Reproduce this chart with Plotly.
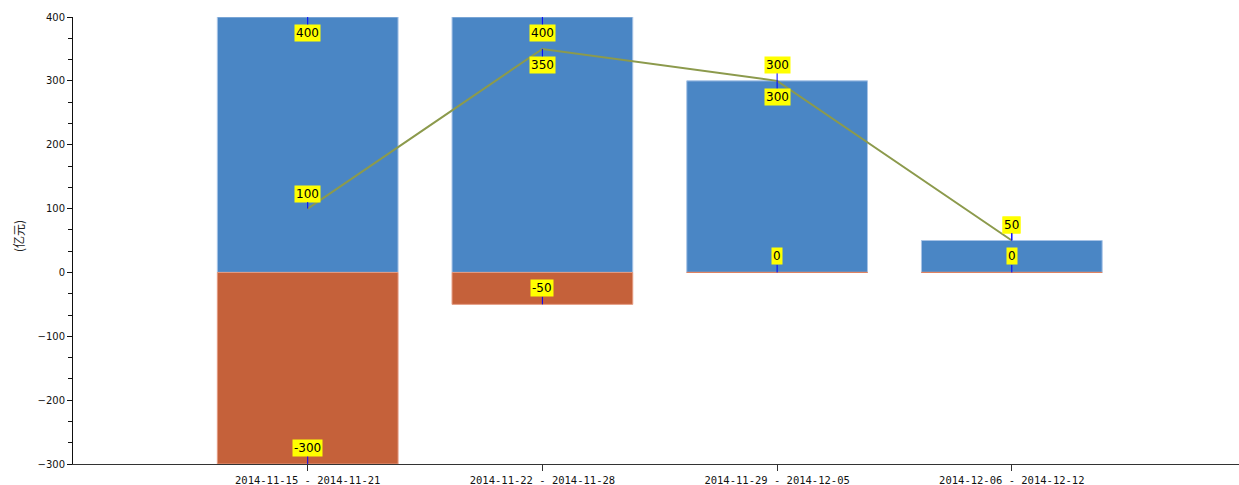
import plotly.graph_objects as go

# Weekly periods and values (亿元)
periods = [
    "2014-11-15 - 2014-11-21",
    "2014-11-22 - 2014-11-28",
    "2014-11-29 - 2014-12-05",
    "2014-12-06 - 2014-12-12",
]
inflow = [400, 400, 300, 50]
outflow = [-300, -50, 0, 0]
net = [100, 350, 300, 50]

# Label placement (pixel offsets from the value point; positive = downward)
inflow_label_offsets = [16, 16, 16, -16]
outflow_label_offsets = [-16, -16, -16, -16]
net_label_offsets = [-15, 16, -16, -16]

BLUE = "#4a86c5"
RED = "#c5613a"
OLIVE = "#8c9a4c"
BAR_WIDTH = 0.77

xs = list(range(len(periods)))

fig = go.Figure()
fig.add_trace(go.Bar(
    x=xs, y=inflow, width=BAR_WIDTH,
    marker=dict(color=BLUE, line=dict(color="#a7c3e6", width=1)),
    hoverinfo="y", name="流入",
))
fig.add_trace(go.Bar(
    x=xs, y=outflow, width=BAR_WIDTH,
    marker=dict(color=RED, line=dict(color="#e49a80", width=1)),
    hoverinfo="y", name="流出",
))
fig.add_trace(go.Scatter(
    x=xs, y=net, mode="lines",
    line=dict(color=OLIVE, width=2),
    hoverinfo="y", name="净额",
))

# zero-height outflow bars still show their edge along the baseline
for x, v in zip(xs, outflow):
    if v == 0:
        fig.add_shape(type="line", xref="x", yref="y",
                      x0=x - BAR_WIDTH / 2, x1=x + BAR_WIDTH / 2, y0=0, y1=0,
                      line=dict(color="#e0805f", width=1), layer="above")


def add_label(x, v, offset):
    fig.add_annotation(
        x=x, y=v, xref="x", yref="y", text=str(v),
        showarrow=True, arrowhead=0, arrowwidth=1, arrowcolor="#0000ff",
        ax=0, ay=offset, standoff=0,
        bgcolor="#ffff00", borderpad=1,
        font=dict(family="DejaVu Sans", size=12, color="#000000"),
    )


for x, v, o in zip(xs, net, net_label_offsets):
    add_label(x, v, o)
for x, v, o in zip(xs, inflow, inflow_label_offsets):
    add_label(x, v, o)
for x, v, o in zip(xs, outflow, outflow_label_offsets):
    add_label(x, v, o)

fig.add_annotation(
    xref="paper", yref="paper", x=-55 / 1166, y=0.51,
    text="(亿元)", textangle=-90, showarrow=False,
    xanchor="center", yanchor="middle",
    font=dict(family="Noto Sans CJK SC", size=12, color="#222222"),
)

fig.update_layout(
    width=1239, height=485,
    margin=dict(l=73, r=0, t=17, b=21, pad=0, autoexpand=False),
    paper_bgcolor="white", plot_bgcolor="white",
    barmode="overlay", showlegend=False,
    xaxis=dict(
        range=[-1.0, 3.968], tickmode="array", tickvals=xs, ticktext=periods,
        showline=True, linecolor="#333333", linewidth=1,
        ticks="outside", ticklen=6, tickcolor="#333333",
        showgrid=False, zeroline=False, automargin=False,
        tickfont=dict(family="DejaVu Sans Mono", size=10.5, color="#111111"),
    ),
    yaxis=dict(
        range=[-300, 400], dtick=100, tick0=0,
        showline=True, linecolor="#111111", linewidth=1,
        ticks="outside", ticklen=5, tickcolor="#111111",
        minor=dict(dtick=100 / 3, tick0=0, ticks="outside", ticklen=4, tickcolor="#111111"),
        showgrid=False, zeroline=False, automargin=False,
        tickfont=dict(family="DejaVu Sans", size=10, color="#111111"),
    ),
)

fig.write_html("out.html")
